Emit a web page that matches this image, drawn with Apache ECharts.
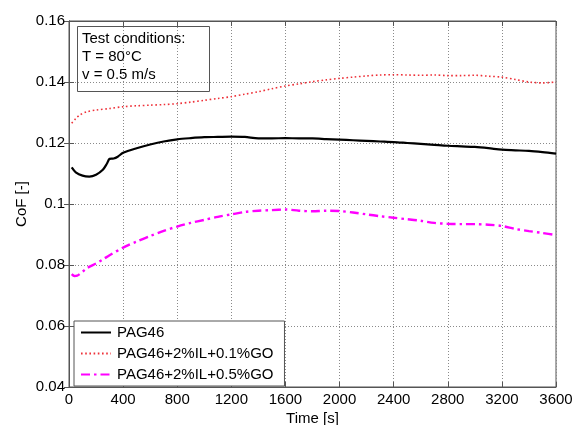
<!DOCTYPE html>
<html>
<head>
<meta charset="utf-8">
<script src="https://cdn.jsdelivr.net/npm/echarts@6/dist/echarts.min.js"></script>
<style>
  html, body { margin: 0; padding: 0; background: #fff; }
  #chart { width: 579px; height: 425px; }
</style>
</head>
<body>
<div id="chart"></div>
<script>
// PAG46
const timePag = [20, 50, 100, 150, 200, 250, 280, 300, 330, 360, 400, 500, 600, 700, 800, 900, 1000, 1100, 1200, 1300, 1400, 1500, 1600, 1700, 1800, 1900, 2000, 2100, 2200, 2300, 2400, 2500, 2600, 2700, 2800, 2900, 3000, 3100, 3200, 3300, 3400, 3500, 3600];
const cofPag = [0.1120, 0.1104, 0.1093, 0.1090, 0.1096, 0.1112, 0.1132, 0.1148, 0.1149, 0.1155, 0.1168, 0.1183, 0.1195, 0.1205, 0.1212, 0.1216, 0.1219, 0.1220, 0.1221, 0.1220, 0.1215, 0.1215, 0.1216, 0.1215, 0.1215, 0.1213, 0.1211, 0.1209, 0.1207, 0.1205, 0.1203, 0.1200, 0.1197, 0.1194, 0.1191, 0.1189, 0.1187, 0.1183, 0.1178, 0.1176, 0.1174, 0.1170, 0.1165];

// PAG46+2%IL+0.1%GO
const timeGo01 = [20, 50, 80, 130, 200, 300, 400, 500, 600, 700, 800, 900, 1000, 1100, 1200, 1300, 1400, 1500, 1600, 1700, 1800, 1900, 2000, 2100, 2200, 2300, 2400, 2500, 2600, 2700, 2800, 2900, 3000, 3100, 3200, 3300, 3400, 3500, 3600];
const cofGo01 = [0.1265, 0.1280, 0.1292, 0.1302, 0.1308, 0.1313, 0.1319, 0.1322, 0.1324, 0.1326, 0.1329, 0.1334, 0.1340, 0.1346, 0.1352, 0.1360, 0.1368, 0.1378, 0.1387, 0.1394, 0.1401, 0.1407, 0.1412, 0.1416, 0.1420, 0.1423, 0.1424, 0.1423, 0.1422, 0.1423, 0.1421, 0.1421, 0.1422, 0.1419, 0.1416, 0.1408, 0.1400, 0.1397, 0.1400];

// PAG46+2%IL+0.5%GO
const timeGo05 = [20, 40, 60, 100, 133, 200, 250, 300, 400, 500, 600, 700, 800, 900, 1000, 1100, 1200, 1300, 1400, 1500, 1600, 1700, 1800, 1900, 2000, 2100, 2200, 2300, 2400, 2500, 2600, 2700, 2800, 2900, 3000, 3100, 3200, 3300, 3400, 3500, 3600];
const cofGo05 = [0.0770, 0.0764, 0.0765, 0.0778, 0.0790, 0.0805, 0.0818, 0.0832, 0.0857, 0.0877, 0.0895, 0.0912, 0.0926, 0.0938, 0.0948, 0.0958, 0.0966, 0.0974, 0.0978, 0.0980, 0.0982, 0.0978, 0.0976, 0.0978, 0.0977, 0.0972, 0.0966, 0.0960, 0.0955, 0.0950, 0.0945, 0.0938, 0.0935, 0.0934, 0.0934, 0.0932, 0.0928, 0.0918, 0.0911, 0.0905, 0.0898];

const seriesNames = ['PAG46', 'PAG46+2%IL+0.1%GO', 'PAG46+2%IL+0.5%GO'];
const conditionLines = ['Test conditions:', 'T = 80°C', 'v = 0.5 m/s'];

const toPairs = (xs, ys) => xs.map((x, i) => [x, ys[i]]);

const font = 'Liberation Sans, Arial, sans-serif';
const gridDots = { show: true, lineStyle: { color: '#8a8a8a', type: [1, 2], width: 1 } };
const tickIn = { show: true, inside: true, length: 5, lineStyle: { color: '#555' } };
const lineAx = { show: true, lineStyle: { color: '#555', width: 1 } };

const myChart = echarts.init(document.getElementById('chart'));
myChart.setOption({
    animation: false,
    backgroundColor: '#fff',
    textStyle: { fontFamily: font },
    title: {
        text: conditionLines.join('\n'),
        left: 77,
        top: 26,
        padding: [4, 24, 8, 5],
        borderColor: '#555',
        borderWidth: 1,
        textStyle: { fontFamily: font, fontSize: 15, fontWeight: 'normal', color: '#000', lineHeight: 18 }
    },
    legend: {
        orient: 'vertical',
        left: 74,
        top: 321,
        padding: [4, 11, 4, 6],
        itemWidth: 30,
        itemHeight: 14,
        itemGap: 6,
        borderColor: '#555',
        borderWidth: 1,
        backgroundColor: '#fff',
        itemStyle: { opacity: 0 },
        textStyle: { fontFamily: font, fontSize: 15, color: '#000', padding: [0, 0, 0, 1] },
        data: seriesNames
    },
    grid: {
        left: 69, right: 23, top: 21, bottom: 38,
        containLabel: false,
        outerBoundsMode: 'none',
        show: true, borderColor: '#555', borderWidth: 1
    },
    xAxis: [{
        type: 'value',
        min: 0, max: 3600, interval: 400,
        name: 'Time [s]',
        nameLocation: 'middle',
        nameGap: 24,
        nameMoveOverlap: false,
        nameTextStyle: { fontFamily: font, fontSize: 15, color: '#000' },
        axisLine: lineAx,
        axisTick: tickIn,
        axisLabel: { margin: 5, fontFamily: font, fontSize: 15, color: '#000', formatter: v => String(v) },
        splitLine: gridDots
    }, {
        type: 'value', position: 'top',
        min: 0, max: 3600, interval: 400,
        axisLine: lineAx, axisTick: tickIn,
        axisLabel: { show: false }, splitLine: { show: false }
    }],
    yAxis: [{
        type: 'value',
        min: 0.04, max: 0.16, interval: 0.02,
        name: 'CoF [-]',
        nameLocation: 'middle',
        nameGap: 40,
        nameMoveOverlap: false,
        nameTextStyle: { fontFamily: font, fontSize: 15, color: '#000' },
        axisLine: lineAx,
        axisTick: tickIn,
        axisLabel: { margin: 4, fontFamily: font, fontSize: 15, color: '#000' },
        splitLine: gridDots
    }, {
        type: 'value', position: 'right',
        min: 0.04, max: 0.16, interval: 0.02,
        axisLine: lineAx, axisTick: tickIn,
        axisLabel: { show: false }, splitLine: { show: false }
    }],
    series: [{
        name: seriesNames[0],
        type: 'line',
        data: toPairs(timePag, cofPag),
        showSymbol: false,
        symbol: 'none',
        smooth: 0.3,
        itemStyle: { color: '#000' },
        lineStyle: { color: '#000', width: 2.2 }
    }, {
        name: seriesNames[1],
        type: 'line',
        data: toPairs(timeGo01, cofGo01),
        showSymbol: false,
        symbol: 'none',
        smooth: 0.3,
        itemStyle: { color: '#ee3038' },
        lineStyle: { color: '#ee3038', width: 1.6, type: [1.6, 2.6] }
    }, {
        name: seriesNames[2],
        type: 'line',
        data: toPairs(timeGo05, cofGo05),
        showSymbol: false,
        symbol: 'none',
        smooth: 0.3,
        itemStyle: { color: '#ff00ff' },
        lineStyle: { color: '#ff00ff', width: 2.4, type: [9, 4, 2.5, 4] }
    }]
});
</script>
</body>
</html>
